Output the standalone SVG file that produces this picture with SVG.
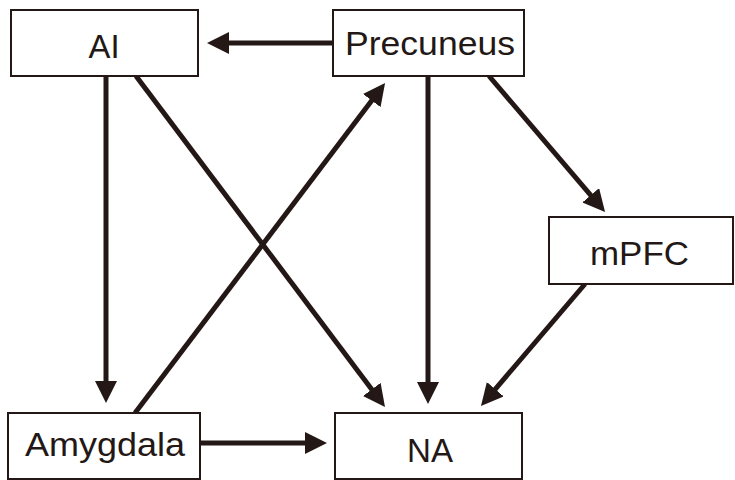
<svg xmlns="http://www.w3.org/2000/svg" width="735" height="480" viewBox="0 0 735 480">
  <style>
    .box { fill: #ffffff; stroke: #231815; stroke-width: 2; }
    .lbl { font-family: "Liberation Sans", Arial, sans-serif; font-size: 33px; fill: #231815; text-anchor: middle; }
    .edge { stroke: #231815; stroke-width: 5; fill: none; marker-end: url(#arrow); }
  </style>
  <defs>
    <marker id="arrow" viewBox="0 0 22 22" markerWidth="22" markerHeight="22" refX="11" refY="11" orient="auto" markerUnits="userSpaceOnUse">
      <path d="M0,0 L22,11 L0,22 z" fill="#231815"/>
    </marker>
  </defs>
  <rect width="735" height="480" fill="#ffffff"/>
  <g id="connectors">
    <line class="edge" x1="333" y1="43" x2="218" y2="43"/>
    <line class="edge" x1="106" y1="76" x2="106" y2="392"/>
    <line class="edge" x1="136" y1="76" x2="378.4" y2="398.2"/>
    <line class="edge" x1="428" y1="76" x2="428" y2="393"/>
    <line class="edge" x1="489" y1="76" x2="597.9" y2="203.6"/>
    <line class="edge" x1="585" y1="284" x2="488.1" y2="397.6"/>
    <line class="edge" x1="135" y1="413" x2="378.4" y2="91.8"/>
    <line class="edge" x1="200" y1="443" x2="316" y2="443"/>
  </g>
  <g id="AI">
    <rect class="box" x="11" y="10" width="187" height="66"/>
    <text class="lbl" x="104" y="58" textLength="31" lengthAdjust="spacingAndGlyphs">AI</text>
  </g>
  <g id="Precuneus">
    <rect class="box" x="333" y="10" width="191" height="66"/>
    <text class="lbl" x="430" y="55" textLength="170" lengthAdjust="spacingAndGlyphs">Precuneus</text>
  </g>
  <g id="mPFC">
    <rect class="box" x="549" y="217" width="184" height="67"/>
    <text class="lbl" x="639.5" y="265" textLength="99" lengthAdjust="spacingAndGlyphs">mPFC</text>
  </g>
  <g id="Amygdala">
    <rect class="box" x="8" y="413" width="192" height="66"/>
    <text class="lbl" x="105" y="456" textLength="160" lengthAdjust="spacingAndGlyphs">Amygdala</text>
  </g>
  <g id="NA">
    <rect class="box" x="335" y="413" width="187" height="66"/>
    <text class="lbl" x="430" y="462" textLength="46" lengthAdjust="spacingAndGlyphs">NA</text>
  </g>
</svg>
